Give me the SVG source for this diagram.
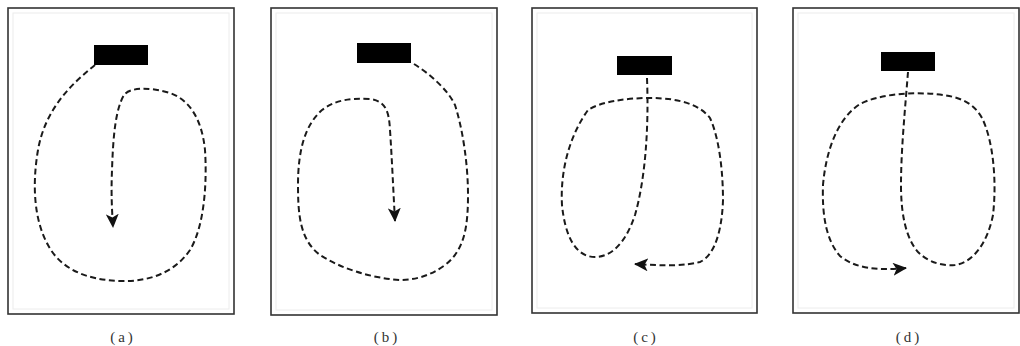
<svg xmlns="http://www.w3.org/2000/svg" width="1020" height="346" viewBox="0 0 1020 346">
<style>
.frame{fill:#fff;stroke:#333;stroke-width:1.6}
.inner{fill:none;stroke:#ececec;stroke-width:1}
.blk{fill:#000}
.flow{fill:none;stroke:#1a1a1a;stroke-width:2;stroke-dasharray:6 3.5;marker-end:url(#ah)}
.lbl{font-family:"Liberation Serif","DejaVu Serif",serif;font-size:15px;fill:#333;text-anchor:middle;letter-spacing:3px}
</style>
<defs>
<marker id="ah" markerUnits="userSpaceOnUse" markerWidth="15" markerHeight="13" viewBox="0 0 15 13" refX="13" refY="6.5" orient="auto">
<path d="M0,0 L14,6.5 L0,13 L3.5,6.5 z" fill="#111"/>
</marker>
</defs>
<rect width="1020" height="346" fill="#fff"/>
<g id="panel-a">
<rect class="frame" x="8" y="8" width="226" height="306"/>
<rect class="inner" x="13" y="13" width="216" height="296"/>
<rect class="blk" x="94" y="45" width="54" height="20"/>
<text class="lbl" x="123" y="342">(a)</text>
</g>
<g id="panel-b">
<rect class="frame" x="271" y="8" width="226" height="307"/>
<rect class="inner" x="276" y="13" width="216" height="297"/>
<rect class="blk" x="357" y="43" width="54" height="20"/>
<text class="lbl" x="387" y="342">(b)</text>
</g>
<g id="panel-c">
<rect class="frame" x="532" y="8" width="225" height="305"/>
<rect class="inner" x="537" y="13" width="215" height="295"/>
<rect class="blk" x="617" y="56" width="55" height="19"/>
<text class="lbl" x="646" y="342">(c)</text>
</g>
<g id="panel-d">
<rect class="frame" x="793" y="8" width="226" height="305"/>
<rect class="inner" x="798" y="13" width="216" height="295"/>
<rect class="blk" x="881" y="52" width="54" height="19"/>
<text class="lbl" x="909" y="342">(d)</text>
</g>
<g id="connectors">
<path class="flow" d="M95,65 C70,85 45,110 38,150 C32,185 34,220 48,245 C60,268 85,280 120,281 C150,282 175,272 190,250 C205,225 207,180 205,150 C202,120 190,100 170,93 C150,87 130,87 124,95 C115,110 113,140 112,170 C111,195 112,210 113,227"/>
<path class="flow" d="M414,64 C430,74 448,90 455,105 C463,130 468,165 468,195 C468,225 465,250 445,265 C430,276 415,280 400,280 C370,278 340,268 320,255 C300,240 298,215 298,185 C298,150 305,125 322,110 C335,100 350,98 370,99 C385,101 389,110 390,130 C392,160 393,185 395,221"/>
<path class="flow" d="M647,78 C649,130 645,180 635,215 C625,245 610,257 595,257 C575,257 565,235 562,205 C560,170 570,135 588,110 C600,102 625,98 650,98 C680,98 700,105 710,118 C720,140 723,175 723,200 C722,230 715,255 700,262 C685,266 665,266 635,264"/>
<path class="flow" d="M908,72 C905,110 901,150 901,185 C901,215 906,238 918,252 C930,264 945,266 955,265 C975,262 988,240 993,215 C997,180 993,140 982,118 C972,100 955,96 935,94 C910,92 880,94 860,104 C838,118 826,150 823,185 C822,215 826,240 840,256 C855,268 875,271 906,268"/>
</g>
</svg>
